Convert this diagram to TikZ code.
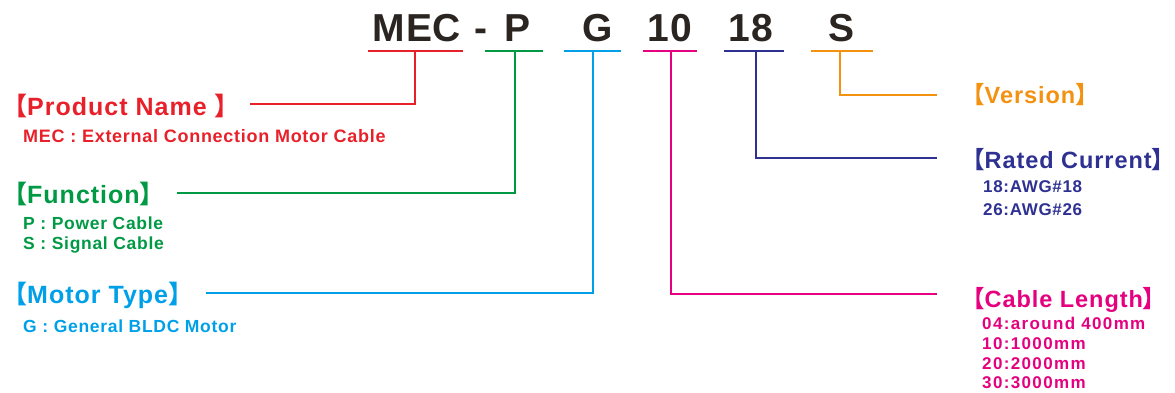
\documentclass[tikz,border=0pt]{standalone}
\usepackage{fontspec}
\newfontfamily\lab{Liberation Sans}[LetterSpace=4]
\newfontfamily\labw{Liberation Sans}[LetterSpace=8]
\newfontfamily\topf{Liberation Sans}[LetterSpace=2]
\newfontfamily\cjk{Noto Sans CJK SC}
\newcommand\lbr{{\cjk\bfseries 【}}
\newcommand\rbr{{\cjk\bfseries 】}\kern-0.45em}
\definecolor{cred}{HTML}{E8202A}
\definecolor{cgreen}{HTML}{009944}
\definecolor{ccyan}{HTML}{00A0E9}
\definecolor{cmag}{HTML}{E4007F}
\definecolor{cnavy}{HTML}{2E3192}
\definecolor{corange}{HTML}{F39110}
\definecolor{cdark}{HTML}{2B2522}
\tikzset{
  toptxt/.style={anchor=base,inner sep=0pt,text=cdark,font=\topf\bfseries\fontsize{39}{39}\selectfont},
  title/.style={anchor=base west,inner sep=0pt,font=\lab\bfseries\fontsize{25}{25}\selectfont},
  rtitle/.style={anchor=base west,inner sep=0pt,font=\lab\bfseries\fontsize{23.5}{24}\selectfont},
  sub/.style={anchor=base west,inner sep=0pt,font=\lab\bfseries\fontsize{17.5}{20}\selectfont},
  rsub/.style={anchor=base west,inner sep=0pt,font=\lab\bfseries\fontsize{17}{20}\selectfont},
  csub/.style={anchor=base west,inner sep=0pt,font=\labw\bfseries\fontsize{17}{20}\selectfont},
  conn/.style={line width=2pt},
}
\begin{document}
\begin{tikzpicture}[x=1pt,y=-1pt]
\useasboundingbox (0,0) rectangle (1175,392);
% top code
\node[toptxt] (mec) at (417,41) {MEC};
\node[toptxt] (dash) at (480.5,41) {-};
\node[toptxt] (p) at (517,41) {P};
\node[toptxt] (g) at (598,41) {G};
\node[toptxt] (ten) at (670,41) {10};
\node[toptxt] (eighteen) at (751,41) {18};
\node[toptxt] (s) at (841,41) {S};
% underline coordinates
\coordinate (ua) at (368,51); \coordinate (ub) at (463,51);
\coordinate (va) at (485,51); \coordinate (vb) at (543,51);
\coordinate (wa) at (564,51); \coordinate (wb) at (621,51);
\coordinate (xa) at (643,51); \coordinate (xb) at (697,51);
\coordinate (ya) at (724,51); \coordinate (yb) at (784,51);
\coordinate (za) at (811,51); \coordinate (zb) at (873,51);
\coordinate (us) at (415,51);
\coordinate (vs) at (515,51);
\coordinate (ws) at (593,51);
\coordinate (xs) at (671,51);
\coordinate (ys) at (756,51);
\coordinate (zs) at (840,51);
% line ends
\coordinate (pnE) at (250,104);
\coordinate (fnE) at (177,193);
\coordinate (mtE) at (206,293);
\coordinate (clE) at (937,294);
\coordinate (rcE) at (937,158);
\coordinate (vrE) at (937,95);
% titles
\node[title,text=cred] (pn) at (2,115) {\lbr Product Name \rbr};
\node[sub,text=cred,font=\lab\bfseries\fontsize{18}{20}\selectfont] (pnsub) at (23,142) {MEC : External Connection Motor Cable};
\node[title,text=cgreen] (fn) at (2,203) {\lbr Function\rbr};
\node[sub,text=cgreen] (fnsub1) at (23,229) {P : Power Cable};
\node[sub,text=cgreen] (fnsub2) at (23,249) {S : Signal Cable};
\node[title,text=ccyan] (mt) at (2,303) {\lbr Motor Type\rbr};
\node[sub,text=ccyan] (mtsub) at (23,332) {G : General BLDC Motor};
\node[rtitle,text=corange] (vr) at (961,103) {\lbr Version\rbr};
\node[rtitle,text=cnavy] (rc) at (961,168) {\lbr Rated Current\rbr};
\node[rsub,text=cnavy] (rcsub1) at (983,192) {18:AWG\#18};
\node[rsub,text=cnavy] (rcsub2) at (983,215) {26:AWG\#26};
\node[rtitle,text=cmag] (cl) at (961,307) {\lbr Cable Length\rbr};
\node[csub,text=cmag] (clsub1) at (982,329) {04:around 400mm};
\node[csub,text=cmag] (clsub2) at (982,349) {10:1000mm};
\node[csub,text=cmag] (clsub3) at (982,369) {20:2000mm};
\node[csub,text=cmag] (clsub4) at (982,388) {30:3000mm};
% connectors
\draw[conn,cred] (ua) -- (ub);
\draw[conn,cred] (us) |- (pnE);
\draw[conn,cgreen] (va) -- (vb);
\draw[conn,cgreen] (vs) |- (fnE);
\draw[conn,ccyan] (wa) -- (wb);
\draw[conn,ccyan] (ws) |- (mtE);
\draw[conn,cmag] (xa) -- (xb);
\draw[conn,cmag] (xs) |- (clE);
\draw[conn,cnavy] (ya) -- (yb);
\draw[conn,cnavy] (ys) |- (rcE);
\draw[conn,corange] (za) -- (zb);
\draw[conn,corange] (zs) |- (vrE);
\end{tikzpicture}
\end{document}
